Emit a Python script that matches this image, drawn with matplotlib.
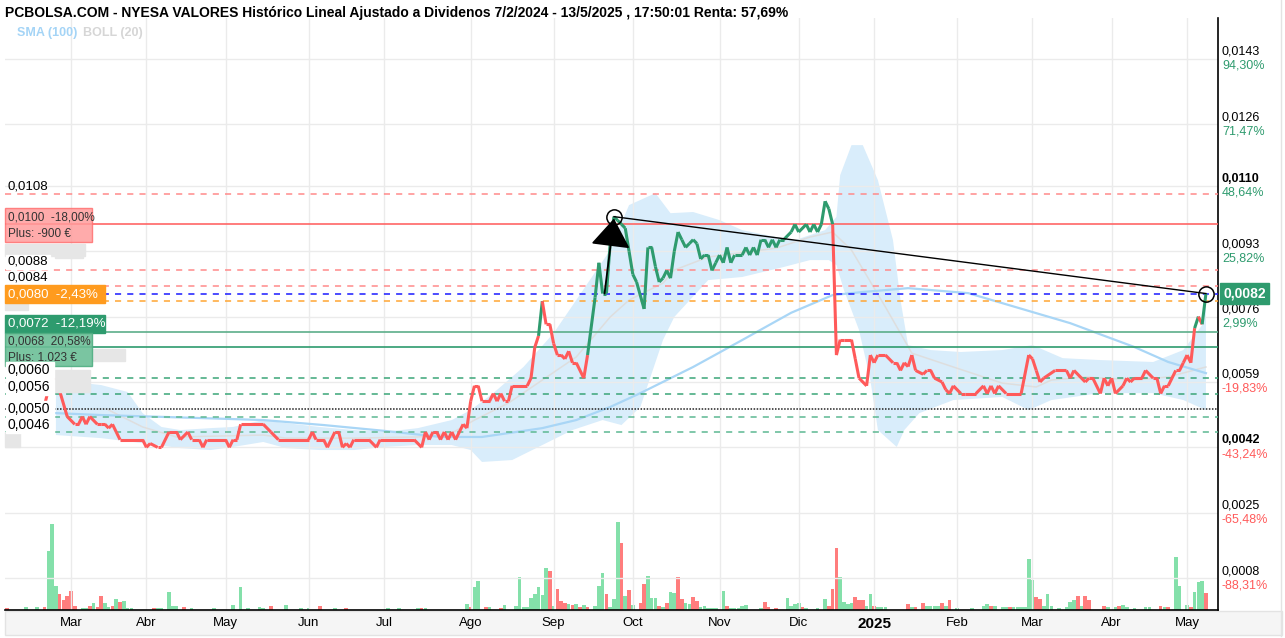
import numpy as np
import matplotlib.pyplot as plt
from matplotlib.collections import LineCollection
from matplotlib.patches import Rectangle
from matplotlib.lines import Line2D

# ---- data (session = trading day since 7/2/2024) ----
price_session = [
    0, 4, 8, 10, 11, 12, 13, 16, 18, 19, 20, 21, 22, 24, 25, 26, 27, 28, 29, 30,
    36, 37, 38, 40, 41, 43, 45, 46, 48, 49, 51, 52, 53, 58, 59, 60, 61, 62, 68, 70,
    72, 80, 81, 82, 84, 85, 87, 88, 89, 90, 91, 92, 96, 98, 99, 108, 110, 111, 112, 113,
    114, 115, 116, 117, 118, 119, 121, 122, 123, 124, 125, 126, 128, 129, 130, 131, 132, 133, 134, 138,
    139, 140, 141, 142, 143, 144, 145, 146, 147, 148, 149, 150, 151, 153, 154, 156, 157, 158, 159, 160,
    161, 162, 163, 164, 165, 166, 167, 169, 170, 171, 172, 173, 174, 175, 176, 177, 178, 179, 180, 181,
    182, 183, 184, 185, 186, 187, 188, 189, 190, 191, 192, 193, 195, 196, 197, 198, 199, 200, 201, 202,
    203, 204, 205, 206, 208, 209, 210, 212, 213, 214, 215, 216, 217, 218, 219, 220, 221, 222, 224, 225,
    226, 228, 229, 230, 231, 233, 235, 236, 237, 238, 239, 240, 241, 243, 244, 245, 246, 248, 249, 250,
    251, 253, 254, 257, 259, 260, 261, 262, 263, 265, 269, 271, 272, 273, 274, 275, 278, 281, 282, 283,
    285, 286, 287, 288, 290, 291, 292, 293, 294, 296, 297, 298, 299, 301, 302, 304, 305, 306, 307, 308,
    310, 311, 312, 313, 314, 315, 316, 317, 318,
]
price = [
    .0052, .0052, .0051, .0053, .0057, .0060, .0060, .0050, .0048, .0048, .0050, .0048, .0050, .0048, .0048, .0048, .0047, .0048, .0046, .0044,
    .0044, .0042, .0043, .0042, .0042, .0046, .0046, .0044, .0046, .0044, .0044, .0042, .0044, .0044, .0042, .0044, .0044, .0048, .0048, .0046,
    .0044, .0044, .0046, .0044, .0044, .0042, .0046, .0046, .0042, .0043, .0042, .0044, .0044, .0042, .0044, .0044, .0042, .0046, .0044, .0046,
    .0046, .0044, .0046, .0044, .0046, .0044, .0048, .0047, .0054, .0058, .0058, .0054, .0054, .0056, .0054, .0056, .0054, .0054, .0058, .0058,
    .0060, .0068, .0071, .0080, .0074, .0074, .0069, .0066, .0066, .0065, .0067, .0064, .0064, .0060, .0066, .0081, .0090, .0082, .0082, .0095,
    .0102, .0101, .0100, .0099, .0093, .0087, .0085, .0078, .0094, .0094, .0089, .0085, .0086, .0088, .0086, .0093, .0098, .0096, .0094, .0095,
    .0096, .0095, .0091, .0092, .0092, .0088, .0090, .0092, .0090, .0094, .0090, .0092, .0092, .0094, .0092, .0094, .0092, .0096, .0096, .0094,
    .0096, .0094, .0096, .0096, .0098, .0100, .0098, .0100, .0098, .0100, .0098, .0100, .0106, .0104, .0100, .0066, .0070, .0070, .0070, .0065,
    .0060, .0058, .0066, .0064, .0066, .0066, .0064, .0064, .0062, .0064, .0063, .0066, .0062, .0061, .0062, .0062, .0060, .0059, .0057, .0056,
    .0058, .0056, .0056, .0056, .0058, .0056, .0058, .0056, .0058, .0056, .0056, .0066, .0065, .0062, .0059, .0060, .0062, .0062, .0060, .0062,
    .0060, .0059, .0060, .0060, .0056, .0060, .0058, .0060, .0056, .0058, .0060, .0059, .0060, .0060, .0062, .0060, .0060, .0056, .0058, .0058,
    .0062, .0062, .0064, .0066, .0064, .0073, .0076, .0074, .0082,
]

# Bollinger (20) band edges and middle, SMA (100)
boll_up_session = [13, 25, 32, 36, 41, 46, 54, 60, 68, 74, 83, 92, 100, 109, 118, 123, 129, 137, 145, 151,
                   160, 165, 172, 176, 182, 189, 195, 204, 209, 217, 220, 221, 224, 227, 231, 235, 237, 239, 245, 253,
                   264, 272, 280, 290, 304, 312, 317, 318]
boll_up = [.00595, .00582, .00564, .00509, .00473, .00465, .00470, .00473, .00491, .00483, .00473, .00465, .00460, .00470, .00491, .00517, .00561, .00629, .00717, .00803,
           .00933, .01050, .01081, .01029, .01032, .01011, .00985, .00967, .00959, .00985, .01019, .01128, .01206, .01206, .01115, .00959, .00803, .00686, .00673, .00668,
           .00673, .00686, .00652, .00647, .00642, .00673, .00738, .00803]
boll_lo_session = [13, 25, 36, 46, 54, 60, 68, 74, 83, 92, 100, 109, 118, 123, 126, 134, 142, 150, 158, 163,
                   168, 174, 177, 186, 195, 206, 213, 218, 220, 222, 226, 229, 231, 236, 238, 242, 251, 264, 271, 277,
                   290, 304, 312, 318]
boll_lo = [.00452, .00444, .00431, .00418, .00413, .00421, .00434, .00418, .00413, .00413, .00421, .00426, .00426, .00413, .00382, .00387, .00426, .00465, .00491, .00478,
           .00525, .00699, .00759, .00855, .00863, .00889, .00907, .00907, .00894, .00829, .00725, .00595, .00465, .00421, .00465, .00509, .00543, .00551, .00517, .00543,
           .00561, .00561, .00543, .00517]
boll_mid_session = [27, 36, 45, 68, 74, 92, 109, 118, 124, 133, 142, 151, 160, 165, 174, 177, 186, 204, 213, 219,
                    224, 233, 240, 251, 264, 273, 277, 286, 299, 308, 318]
boll_mid = [.00517, .00473, .00447, .00452, .00444, .00444, .00447, .00457, .00491, .00535, .00595, .00655, .00759, .00803, .00847, .00881, .00915, .00938, .00967, .00980,
            .00933, .00785, .00665, .00629, .00587, .00577, .00595, .00603, .00595, .00603, .00629]
sma_session = [13, 25, 52, 68, 84, 100, 115, 126, 133, 142, 151, 160, 168, 182, 195, 208, 219, 227, 239, 255,
               264, 282, 299, 308, 318]
sma100 = [.00509, .00504, .00496, .00491, .00478, .00463, .00447, .00447, .00457, .00470, .00491, .00525, .00561, .00629, .00699, .00770, .00816, .00824, .00834, .00821,
          .00795, .00743, .00681, .00642, .00613]

# volume (relative units) and day direction
vol_session = [0, 5, 8, 10, 11, 12, 13, 14, 15, 16, 17, 18, 20, 21, 22, 23, 24, 25, 26, 27,
               28, 29, 30, 31, 32, 33, 39, 40, 41, 43, 44, 45, 47, 49, 55, 60, 62, 64, 67, 68,
               70, 74, 78, 80, 83, 87, 90, 101, 104, 109, 110, 111, 122, 123, 124, 125, 127, 128, 131, 132,
               135, 136, 137, 138, 139, 140, 141, 142, 143, 144, 145, 146, 147, 148, 149, 150, 151, 152, 153, 154,
               156, 157, 158, 159, 160, 161, 162, 163, 164, 165, 166, 168, 169, 170, 171, 172, 173, 174, 175, 176,
               177, 178, 179, 180, 181, 182, 183, 184, 185, 186, 187, 188, 190, 191, 192, 193, 194, 195, 196, 200,
               201, 202, 204, 207, 208, 209, 210, 211, 212, 215, 217, 218, 219, 220, 221, 222, 223, 224, 225, 226,
               227, 228, 229, 230, 231, 232, 233, 239, 240, 241, 243, 244, 245, 246, 247, 248, 249, 250, 252, 256,
               259, 260, 261, 262, 264, 265, 266, 267, 268, 269, 270, 271, 272, 273, 274, 275, 276, 277, 279, 281,
               282, 283, 284, 285, 286, 287, 291, 292, 294, 295, 296, 297, 299, 302, 303, 306, 307, 308, 310, 311,
               313, 314, 315, 316, 317, 318]
vol = [2.5, 2.7, 3, 3, 59, 86, 24, 16, 10, 14, 19, 4, 2, 2, 4, 7, 3, 14, 7, 3,
       4, 11, 8, 9, 2, 2, 2, 2, 2, 18, 4, 4, 3, 2, 2, 5, 23, 2, 3, 2,
       4, 5, 2, 2, 4, 2, 2, 2, 2, 2, 2, 2, 6, 3, 23, 29, 3, 3, 2, 5,
       4, 33, 3, 3, 12, 16, 23, 15, 42, 39, 4, 21, 9, 7, 6, 5, 6, 3, 5, 3,
       4, 24, 37, 16, 3, 11, 88, 67, 14, 20, 5, 7, 26, 34, 12, 12, 4, 3, 7, 18,
       17, 33, 11, 7, 6, 13, 9, 3, 4, 2, 2, 2, 19, 4, 2, 2, 2, 4, 5, 2,
       8, 3, 2, 12, 4, 6, 7, 3, 2, 2, 11, 4, 21, 62, 33, 8, 6, 7, 13, 10,
       10, 4, 16, 4, 3, 3, 3, 6, 3, 3, 7, 4, 4, 4, 4, 7, 4, 10, 2, 2,
       4, 6, 4, 4, 3, 3, 3, 3, 3, 3, 3, 51, 30, 13, 11, 4, 16, 4, 2, 3,
       8, 10, 14, 4, 14, 10, 4, 3, 3, 4, 5, 3, 2, 3, 3, 4, 3, 3, 53, 24,
       5, 3, 18, 28, 29, 17]
vol_dir = [
    "r", "g", "g", "r", "g", "g", "g", "r", "r", "r", "r", "r", "g", "g", "r", "g", "r", "r", "g", "g",
    "r", "g", "r", "g", "g", "g", "r", "g", "g", "g", "g", "g", "r", "g", "g", "g", "g", "g", "g", "g",
    "r", "g", "g", "g", "r", "g", "r", "g", "g", "g", "r", "g", "g", "r", "g", "g", "r", "g", "r", "g",
    "g", "g", "g", "g", "g", "g", "g", "g", "g", "r", "g", "r", "r", "r", "g", "r", "g", "r", "g", "r",
    "g", "g", "g", "r", "g", "g", "g", "r", "g", "r", "g", "r", "r", "g", "g", "g", "r", "g", "r", "g",
    "g", "r", "r", "g", "g", "r", "r", "g", "g", "g", "g", "g", "g", "r", "g", "g", "g", "g", "g", "g",
    "r", "r", "r", "g", "g", "g", "g", "r", "g", "g", "g", "r", "r", "r", "g", "g", "g", "g", "r", "r",
    "r", "g", "g", "r", "g", "g", "g", "r", "g", "r", "r", "g", "g", "g", "g", "r", "g", "r", "g", "g",
    "g", "g", "r", "g", "g", "g", "r", "g", "g", "g", "g", "g", "g", "r", "r", "g", "g", "g", "g", "g",
    "g", "g", "r", "g", "r", "r", "r", "g", "g", "r", "g", "g", "g", "g", "g", "r", "g", "r", "g", "g",
    "g", "r", "g", "g", "g", "r",
]

# axis annotations
month_session = [17, 37, 58, 80, 100, 123, 145, 166, 189, 210, 230, 252, 272, 293, 313]
month_label = ["Mar", "Abr", "May", "Jun", "Jul", "Ago", "Sep", "Oct", "Nov", "Dic", "2025",
               "Feb", "Mar", "Abr", "May"]
grid_price = [0.0143, 0.0126, 0.0110, 0.0093, 0.0076, 0.0059, 0.0042, 0.0025, 0.0008]
grid_pct = ["94,30%", "71,47%", "48,64%", "25,82%", "2,99%", "-19,83%", "-43,24%", "-65,48%", "-88,31%"]
last_price = 0.0082
split_price = 0.0075
peak_window = 180  # trend line starts at the September high

# horizontal level lines: (price, colour, style)
levels = [
    (0.0108, "#ff8a8a", "dash"), (0.0100, "#ff6666", "solid"), (0.0088, "#ff8a8a", "dash"),
    (0.0084, "#ff8a8a", "dash"), (0.0082, "#1a1aff", "dash"), (0.0080, "#ffa533", "dash"),
    (0.0072, "#5cae8a", "solid"), (0.0068, "#2e9b6e", "solid"), (0.0060, "#3aa578", "dash"),
    (0.0056, "#3aa578", "dash"), (0.0052, "#222222", "dot"), (0.0050, "#5db892", "dash"),
    (0.0046, "#5db892", "dash"),
]

GREEN = "#2e9b6e"
RED = "#ff5a5a"
FONT = ["Liberation Sans", "DejaVu Sans"]

W, H = 1285, 638
fig = plt.figure(figsize=(W / 100, H / 100), dpi=100)


def fx(px):
    return px / W


def fy(py):
    return 1 - py / H


rect = [fx(5), fy(610), fx(1218) - fx(5), fy(18) - fy(610)]
vax = fig.add_axes(rect, zorder=0)
ax = fig.add_axes(rect, zorder=1)
ax.patch.set_visible(False)
xlim = (-0.5, 321.2)

# volume bars
vax.bar(vol_session, vol, width=0.95,
        color=["#84e0aa" if d == "g" else "#ff7d7d" for d in vol_dir], linewidth=0)
vax.set_xlim(*xlim)
vax.set_ylim(0, 592)
vax.axis("off")

# grid
ax.set_xlim(*xlim)
ax.set_ylim(-0.00003, 0.015366)
ax.set_yticks(grid_price)
ax.set_xticks(month_session)
ax.set_xticklabels(month_label)
ax.grid(True, color="#ebebeb", lw=1)
ax.tick_params(axis="y", length=0, labelleft=False, labelright=False)
ax.tick_params(axis="x", length=0, pad=5, labelsize=9.5)
for lab in ax.get_xticklabels():
    lab.set_fontfamily(FONT)
    if lab.get_text() == "2025":
        lab.set_fontweight("bold")
        lab.set_fontsize(11)
for s in ["left", "top"]:
    ax.spines[s].set_visible(False)
for s in ["right", "bottom"]:
    ax.spines[s].set_color("black")
    ax.spines[s].set_linewidth(1.2)

# Bollinger band, middle and SMA
ax.fill(np.r_[boll_up_session, boll_lo_session[::-1]], np.r_[boll_up, boll_lo[::-1]],
        color="#d9edfb", lw=0, zorder=1)
ax.plot(boll_mid_session, boll_mid, color="#dedede", lw=1.1, zorder=2)
ax.plot(sma_session, sma100, color="#a9d6f6", lw=1.6, zorder=2)

# level lines
styles = {"dash": (0, (4, 4)), "solid": "-", "dot": (0, (1, 1))}
for p, c, st in levels:
    ax.axhline(p, color=c, ls=styles[st], lw=1.1 if st != "solid" else 1.2, zorder=3)

# price line, coloured per session
pts = np.column_stack([price_session, price])
segs = np.stack([pts[:-1], pts[1:]], axis=1)
cols = [GREEN if v >= split_price else RED for v in price[1:]]
ax.add_collection(LineCollection(segs, colors=cols, linewidths=2.2, zorder=5,
                                 capstyle="butt", joinstyle="round"))

# trend line between September high and last price, with circles and arrow
n_win = sum(s <= peak_window for s in price_session)
i_peak = int(np.argmax(price[:n_win]))
peak_s, peak_p = price_session[i_peak], price[i_peak]
last_s = price_session[-1]
ax.plot([peak_s, last_s], [peak_p, last_price], color="black", lw=1, zorder=6)
ax.plot([peak_s, last_s], [peak_p, last_price], "o", mfc="none", mec="black", ms=11, mew=1.1, zorder=7)
ax.annotate("", xy=(peak_s, peak_p - 0.00005), xytext=(peak_s - 2.5, last_price),
            arrowprops=dict(arrowstyle="-|>,head_length=1.0,head_width=0.7", mutation_scale=18,
                            color="black", lw=1.3, shrinkA=0, shrinkB=0), zorder=7)

# right axis labels
tr = ax.get_yaxis_transform()
for p, pct in zip(grid_price, grid_pct):
    bold = p in (0.0110, 0.0042)
    ax.annotate(f"{p:.4f}".replace(".", ","), xy=(1.0, p), xycoords=tr, xytext=(4, 7),
                textcoords="offset pixels", va="center", ha="left", fontsize=9,
                family=FONT, color="black", fontweight="bold" if bold else "normal",
                annotation_clip=False)
    ax.annotate(pct, xy=(1.0, p), xycoords=tr, xytext=(4, -7), textcoords="offset pixels",
                va="center", ha="left", fontsize=9, family=FONT,
                color=RED if pct.startswith("-") else GREEN, annotation_clip=False)
ax.annotate(f"{last_price:.4f}".replace(".", ","), xy=(1.0, last_price), xycoords=tr,
            xytext=(5, 0), textcoords="offset pixels", va="center", ha="left",
            fontsize=10, family=FONT, color="white", fontweight="bold", annotation_clip=False,
            bbox=dict(boxstyle="square,pad=0.25", fc=GREEN, ec=GREEN), zorder=8)

# figure furniture: x label strip and right border
fig.add_artist(Rectangle((fx(5), fy(635)), fx(1282) - fx(5), fy(611) - fy(635),
                         transform=fig.transFigure, fc="#f5f5f5", ec="#e3e3e3", lw=1, zorder=-1))
fig.add_artist(Line2D([fx(1281), fx(1281)], [fy(0), fy(636)], transform=fig.transFigure,
                      color="#e3e3e3", lw=1))

title = ("PCBOLSA.COM - NYESA VALORES Histórico Lineal Ajustado a Dividenos 7/2/2024 - 13/5/2025 , "
         "17:50:01 Renta: 57,69%")
fig.text(fx(5), fy(13), title, fontsize=10, fontweight="bold", va="center", ha="left", family=FONT)
fig.text(fx(17), fy(33), "SMA (100)", fontsize=9, fontweight="bold", color="#a4d4f6",
         va="center", family=FONT)
fig.text(fx(83), fy(33), "BOLL (20)", fontsize=9, fontweight="bold", color="#d6d6d6",
         va="center", family=FONT)


# left level labels
def box(x0, y0, x1, y1, fc, ec=None, alpha=1.0, z=9):
    fig.add_artist(Rectangle((fx(x0), fy(y1)), fx(x1) - fx(x0), fy(y0) - fy(y1),
                             transform=fig.transFigure, fc=fc, ec=ec or fc, lw=1,
                             alpha=alpha, zorder=z))


def label(x, y, s, color="black", size=9.5, bold=False):
    fig.text(fx(x), fy(y), s, fontsize=size, color=color, va="center", ha="left",
             family=FONT, fontweight="bold" if bold else "normal", zorder=10)


# blurred hidden tags
for x0, y0, x1, y1 in [(5, 244, 85, 256), (55, 250, 83, 258), (5, 303, 28, 310),
                       (92, 349, 125, 361), (55, 370, 90, 392), (5, 432, 20, 447)]:
    box(x0, y0, x1, y1, "#e6e6e6", z=8)

label(8, 186, "0,0108")
box(5, 208, 92, 242, "#ff9c9c", ec="#ff7070", alpha=0.85)
label(8, 218, "0,0100  -18,00%", color="#333333", size=8.5)
label(8, 234, "Plus: -900 €", color="#333333", size=8.5)
for y, s in [(262, "0,0088"), (278, "0,0084")]:
    box(6, y - 7, 50, y + 7, "white")
    label(8, y, s)
box(5, 285, 105, 303, "#ff9b1e")
label(8, 294, "0,0080  -2,43%", color="white", size=9.5)
box(5, 315, 105, 333, GREEN)
label(8, 324, "0,0072  -12,19%", color="white", size=9.5)
box(5, 333, 92, 366, "#6cbf97", ec="#4fae82", alpha=0.9)
label(8, 341, "0,0068  20,58%", color="#333333", size=8.5)
label(8, 358, "Plus: 1.023 €", color="#333333", size=8.5)
for y, s in [(370, "0,0060"), (387, "0,0056"), (409, "0,0050"), (425, "0,0046")]:
    box(6, y - 8, 54, y + 8, "white")
    label(8, y, s, size=10)

fig.savefig("out.png", dpi=100)
